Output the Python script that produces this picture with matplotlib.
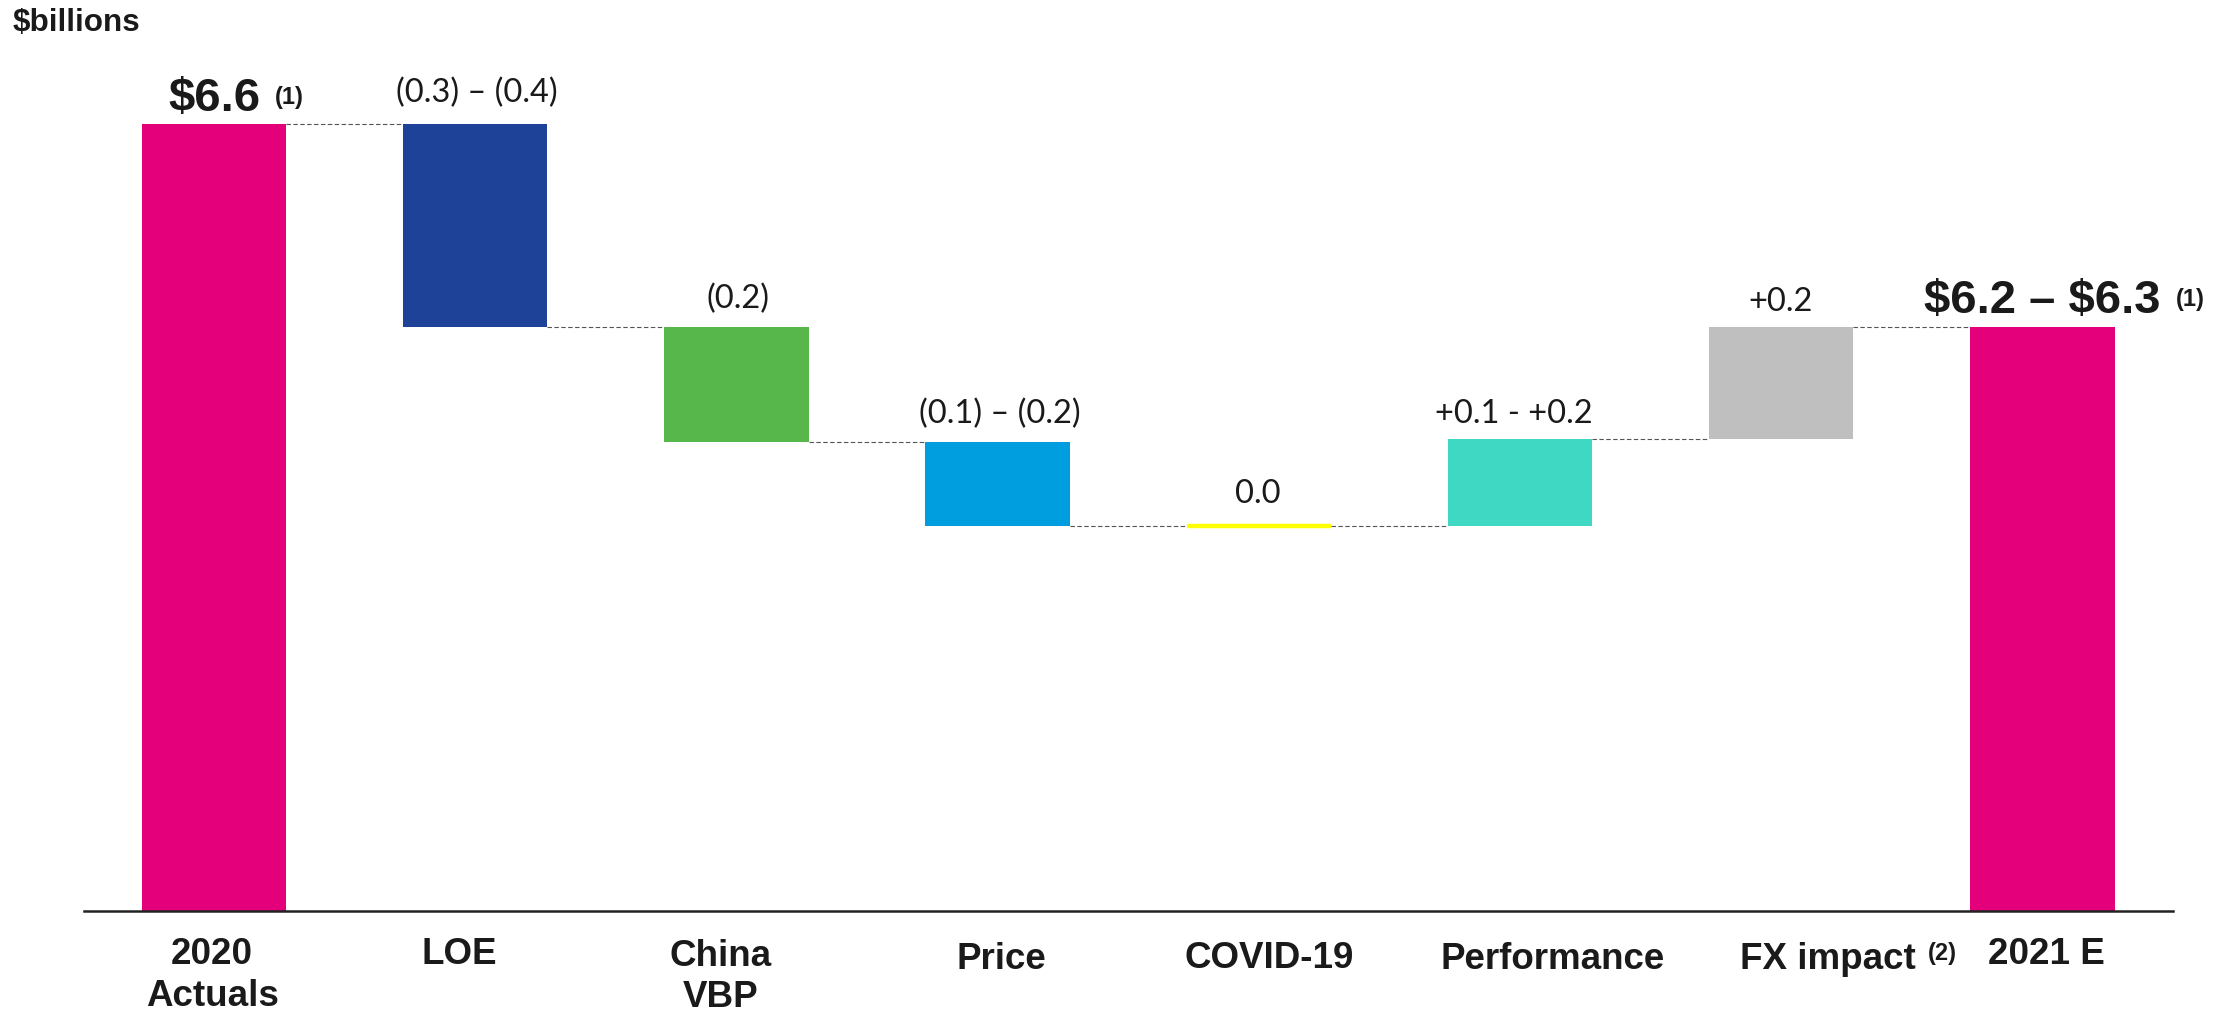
import matplotlib
matplotlib.use("Agg")
import matplotlib.pyplot as plt
import numpy as np

plt.rcParams["text.parse_math"] = False

# ---------------- data ----------------
categories = ["2020\nActuals", "LOE", "China\nVBP", "Price", "COVID-19",
              "Performance", "FX impact", "2021 E"]
start_value = 6.6                       # 2020 bar (drawn height)
# drawn step sizes of the floating bars (the source chart is schematic, not to scale)
step_heights = [-1.70, -0.97, -0.70, 0.0, 0.73, 0.94]
step_labels = ["(0.3) – (0.4)", "(0.2)", "(0.1) – (0.2)", "0.0", "+0.1 - +0.2", "+0.2"]
total_labels = ["$6.6", "$6.2 – $6.3"]
total_notes = ["(1)", "(1)"]
fx_note = "(2)"
unit_label = "$billions"

# ---------------- styles / layout ----------------
PINK = "#E4007A"
step_colors = ["#1E4297", "#57B74A", "#009EDE", "#FFFF00", "#3FD9C3", "#BFBFBF"]
TXT = "#1A1A1A"
W, H = 2223, 1011
BAR_W = 0.553
# label horizontal shifts (px) and cap-top distance below baseline (px), line spacing
cat_dx = [-2, -16, -16, 4, 10, 33, 47, 4]
cat_dy = [27, 27, 29, 31.5, 30, 31.5, 31.5, 27]
cat_ls = [1.25, 1.0, 1.22, 1.0, 1.0, 1.0, 1.0, 1.0]
val_gap = [22, 18, 19, 23, 16, 16]
val_dx = [2, 2, 2, -1, -6, -1]

fig = plt.figure(figsize=(W / 100, H / 100), dpi=100)
ax = fig.add_axes([83.5 / W, 100.5 / H, 2089.5 / W, 905.7 / H])
ax.set_xlim(-0.5, 7.5)
ax.set_ylim(0, 7.6)
ax.axis("off")

levels = start_value + np.cumsum(step_heights)
prev = np.concatenate([[start_value], levels[:-1]])
end_value = levels[-1]

# total bars
ax.bar([0, len(categories) - 1], [start_value, end_value], width=BAR_W,
       color=PINK, zorder=2)

# floating step bars
for i, (s, p, lv) in enumerate(zip(step_heights, prev, levels)):
    x = i + 1
    if s == 0:
        ax.hlines(lv, x - BAR_W / 2, x + BAR_W / 2, colors=step_colors[i],
                  linewidth=3.2, capstyle="butt", zorder=2)
    else:
        ax.bar(x, abs(s), bottom=min(p, lv), width=BAR_W,
               color=step_colors[i], zorder=2)

# dashed connectors
conn_levels = np.concatenate([[start_value], levels])
for k, lv in enumerate(conn_levels):
    ax.hlines(lv, k + BAR_W / 2, k + 1 - BAR_W / 2, colors="#555555",
              linewidth=0.8, linestyles=(0, (4, 2.2)), zorder=1)

# baseline
ax.axhline(0, color="#222222", linewidth=1.8, clip_on=False, zorder=3)

# step value labels
for i, (s, p, lv) in enumerate(zip(step_heights, prev, levels)):
    top = max(p, lv)
    ax.annotate(step_labels[i], xy=(i + 1, top), xytext=(val_dx[i], val_gap[i]),
                textcoords="offset pixels", ha="center", va="baseline",
                fontsize=23.5, family=["Lato", "DejaVu Sans"], color=TXT)

# total labels with footnote markers
for j, (x, y, gap) in enumerate([(0, start_value, 13), (len(categories) - 1, end_value, 14)]):
    t = ax.annotate(total_labels[j], xy=(x, y), xytext=(0, gap),
                    textcoords="offset pixels", ha="center", va="baseline",
                    fontsize=34, fontweight="bold",
                    family=["Liberation Sans", "DejaVu Sans"], color=TXT)
    ax.annotate(total_notes[j], xy=(1, 0), xycoords=t, xytext=(15, 17),
                textcoords="offset pixels", ha="left", va="baseline",
                fontsize=17, fontweight="bold",
                family=["Liberation Sans", "DejaVu Sans"], color=TXT)

# category labels
for i, c in enumerate(categories):
    t = ax.annotate(c, xy=(i, 0), xytext=(cat_dx[i], -cat_dy[i]),
                    textcoords="offset pixels", ha="center", va="top",
                    fontsize=26.5, fontweight="bold", linespacing=cat_ls[i],
                    family=["Liberation Sans", "DejaVu Sans"], color=TXT,
                    annotation_clip=False)
    if c == "FX impact":
        ax.annotate(fx_note, xy=(1, 0), xycoords=t, xytext=(12, 17),
                    textcoords="offset pixels", ha="left", va="baseline",
                    fontsize=17, fontweight="bold",
                    family=["Liberation Sans", "DejaVu Sans"], color=TXT)

fig.text(12.8 / W, 1 - 30.7 / H, unit_label, ha="left", va="baseline",
         fontsize=22.6, fontweight="bold",
         family=["Liberation Sans", "DejaVu Sans"], color=TXT)

fig.savefig("out.png", dpi=100, facecolor="white")
